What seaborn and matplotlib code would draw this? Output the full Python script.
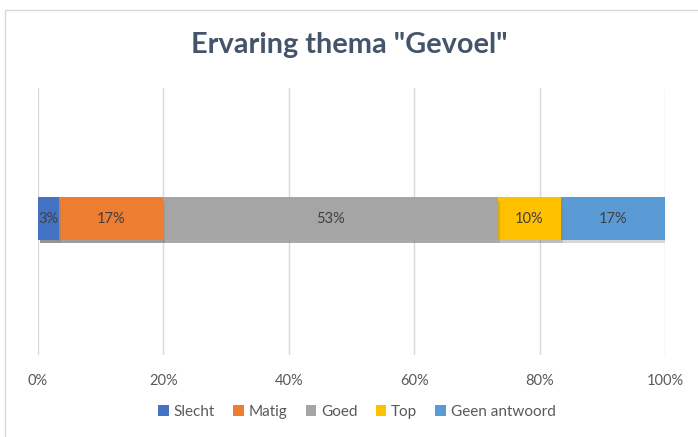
import matplotlib
matplotlib.use("Agg")
import matplotlib.pyplot as plt
import matplotlib.patheffects as pe
from matplotlib.lines import Line2D
from matplotlib.patches import Patch
import seaborn as sns
import numpy as np

# Responses per answer category (30 respondents)
categories = ["Slecht", "Matig", "Goed", "Top", "Geen antwoord"]
counts = [1, 5, 16, 3, 5]
colors = ["#4472C4", "#ED7D31", "#A5A5A5", "#FFC000", "#5B9BD5"]
row_label = ["Gevoel"]
tick_values = [0, 20, 40, 60, 80, 100]
tick_labels = ["0%", "20%", "40%", "60%", "80%", "100%"]
title = 'Ervaring thema "Gevoel"'

sns.set_theme(style="white")
plt.rcParams["font.family"] = ["Lato", "DejaVu Sans"]

total = sum(counts)
shares = [100.0 * c / total for c in counts]
cum = np.cumsum(shares)

fig = plt.figure(figsize=(6.98, 4.37), dpi=100)
ax = fig.add_axes([38 / 698, 1 - 355 / 437, 627 / 698, 267 / 437])

# stacked bar: draw cumulative totals from the last segment to the first
shadow = [pe.SimplePatchShadow(offset=(1.5, -2.5), shadow_rgbFace="#7f7f7f", alpha=0.3), pe.Normal()]
for i in range(len(categories) - 1, -1, -1):
    sns.barplot(x=[cum[i]], y=row_label, color=colors[i], width=0.158,
                orient="h", ax=ax, saturation=1, linewidth=0, zorder=3)
for p in ax.patches:
    p.set_path_effects(shadow)

for i, s in enumerate(shares):
    ax.text(cum[i] - s / 2, 0, f"{s:.0f}%", ha="center", va="center",
            fontsize=10.5, color="#404040", zorder=5)

ax.set_xlim(0, 100)
ax.set_ylim(0.511, -0.489)
ax.set_xticks(tick_values)
ax.set_xticklabels(tick_labels, fontsize=10.5, color="#595959")
ax.set_yticks([])
ax.set_ylabel("")
ax.set_xlabel("")
ax.tick_params(axis="x", length=0, pad=14)
ax.grid(axis="x", color="#D9D9D9", linewidth=1, zorder=0)
ax.set_axisbelow(True)
for sp in ax.spines.values():
    sp.set_visible(False)

fig.text(0.5, 1 - 45 / 437, title, ha="center", va="center",
         fontsize=20.8, fontweight="bold", color="#44546A")

handles = [Patch(facecolor=c, edgecolor="none") for c in colors]
fig.legend(handles, categories, loc="center", bbox_to_anchor=(357 / 698, 1 - 412 / 437),
           ncol=5, frameon=False, fontsize=11, handlelength=0.7, handleheight=0.7,
           handletextpad=0.3, columnspacing=1.2, labelcolor="#595959")

# chart area border
fig.add_artist(Line2D([5 / 698, 5 / 698], [0, 1 - 10 / 437], transform=fig.transFigure,
                      color="#D9D9D9", linewidth=1))
fig.add_artist(Line2D([5 / 698, 1], [1 - 10 / 437, 1 - 10 / 437], transform=fig.transFigure,
                      color="#D9D9D9", linewidth=1))

fig.savefig("out.png", dpi=100, facecolor="white")
